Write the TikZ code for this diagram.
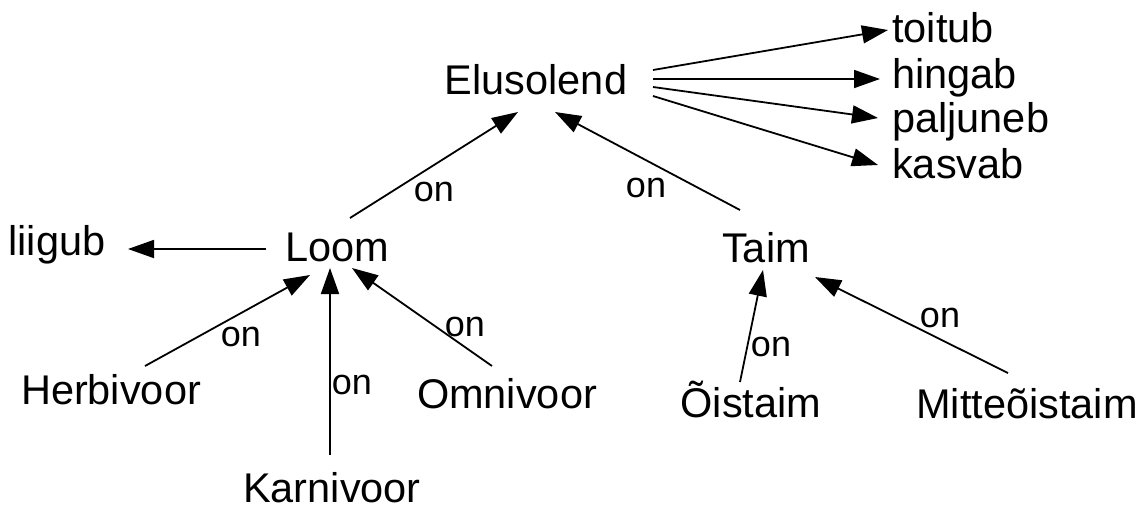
\documentclass[tikz,border=0pt]{standalone}
\usepackage{fontspec}
\setmainfont{Liberation Sans}
\usetikzlibrary{arrows.meta}
\begin{document}
\begin{tikzpicture}[x=1pt,y=-1pt,
  word/.style={inner sep=0pt, anchor=base, font=\fontsize{41.5}{48}\selectfont},
  wordw/.style={inner sep=0pt, anchor=base west, font=\fontsize{41.5}{48}\selectfont},
  lbl/.style={inner sep=0pt, anchor=center, font=\fontsize{36}{42}\selectfont},
  arr/.style={line width=1.8pt, -{Triangle[length=26pt,width=18pt]}}]
\useasboundingbox (0,0) rectangle (1144,507);
% nodes
\node[word] (elus) at (536,94) {Elusolend};
\node[wordw] (toitub) at (892,42) {toitub};
\node[wordw] (hingab) at (892,88) {hingab};
\node[wordw] (paljuneb) at (892,132) {paljuneb};
\node[wordw] (kasvab) at (892,178) {kasvab};
\node[word] (loom) at (337,261) {Loom};
\node[word] (liigub) at (57,255) {liigub};
\node[word] (taim) at (766,262) {Taim};
\node[word] (herb) at (111,404) {Herbivoor};
\node[word] (karn) at (332,502) {Karnivoor};
\node[word] (omni) at (507,408) {Omnivoor};
\node[word] (oist) at (751,417) {Õistaim};
\node[word] (mitte) at (1027,418) {Mitteõistaim};
% labels
\node[lbl] (on1) at (434,192) {on};
\node[lbl] (on2) at (646,188) {on};
\node[lbl] (on3) at (241,337) {on};
\node[lbl] (on4) at (352,385) {on};
\node[lbl] (on5) at (465,327) {on};
\node[lbl] (on6) at (771,347) {on};
\node[lbl] (on7) at (940,318) {on};
% connectors from Elusolend
\draw[arr] ([shift={(117,-24)}]elus.base) -- ([shift={(-4,-12)}]toitub.base west);
\draw[arr] ([shift={(117,-15)}]elus.base) -- ([shift={(-12,-9)}]hingab.base west);
\draw[arr] ([shift={(117,-7)}]elus.base) -- ([shift={(-14,-14)}]paljuneb.base west);
\draw[arr] ([shift={(117,2)}]elus.base) -- ([shift={(-14,-13)}]kasvab.base west);
% is-a links
\draw[arr] ([shift={(13,-43)}]loom.base) -- ([shift={(-18,18)}]elus.base);
\draw[arr] ([shift={(-26,-52)}]taim.base) -- ([shift={(19,18)}]elus.base);
\draw[arr] ([shift={(-71,-12)}]loom.base) -- ([shift={(71,-6)}]liigub.base);
\draw[arr] ([shift={(34,-38)}]herb.base) -- ([shift={(-27,14)}]loom.base);
\draw[arr] ([shift={(-2,-47)}]karn.base) -- ([shift={(-7,7)}]loom.base);
\draw[arr] ([shift={(-15,-42)}]omni.base) -- ([shift={(15,7)}]loom.base);
\draw[arr] ([shift={(-11,-35)}]oist.base) -- ([shift={(-3,8)}]taim.base);
\draw[arr] ([shift={(-19,-45)}]mitte.base) -- ([shift={(49,15)}]taim.base);
\end{tikzpicture}
\end{document}
